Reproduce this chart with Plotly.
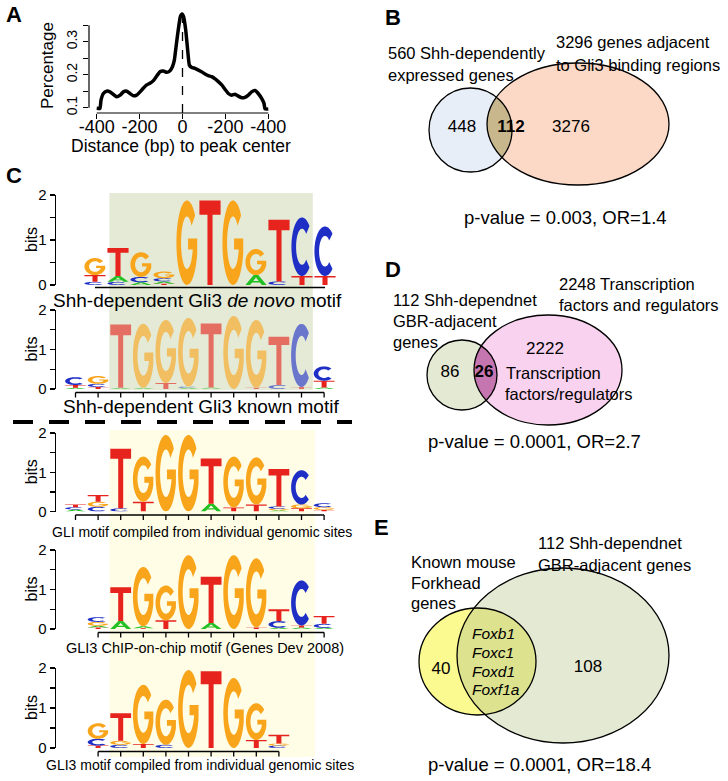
import numpy as np
import plotly.graph_objects as go

W, H = 728, 781
FONT = "Liberation Sans, Arial, sans-serif"

# ---------------- Panel A data ----------------
dist_bp = [-400, -385, -380, -369, -354, -338, -322, -307, -291, -276, -260, -245, -229, -214, -198,
           -183, -167, -152, -136, -120, -105, -89, -74, -58, -47, -38, -30, -19, -10, -2,
           5, 15, 24, 32, 43, 58, 74, 89, 105, 120, 136, 152, 167, 183, 198,
           214, 229, 245, 260, 276, 291, 307, 322, 338, 353, 369, 380, 385, 400]
pct = [0.098, 0.098, 0.123, 0.143, 0.150, 0.148, 0.140, 0.133, 0.138, 0.148, 0.150, 0.143, 0.136, 0.138, 0.148,
       0.159, 0.169, 0.174, 0.182, 0.196, 0.209, 0.211, 0.207, 0.212, 0.224, 0.244, 0.285, 0.340, 0.376, 0.384,
       0.376, 0.335, 0.275, 0.229, 0.222, 0.219, 0.214, 0.209, 0.202, 0.197, 0.194, 0.187, 0.179, 0.169, 0.156,
       0.143, 0.138, 0.141, 0.135, 0.130, 0.131, 0.138, 0.148, 0.152, 0.143, 0.128, 0.113, 0.096, 0.096]
A_XTICKS = [-400, -200, 0, 200, 400]
A_XTICKTEXT = ["-400", "-200", "0", "-200", "-400"]
A_YTICKS = [0.1, 0.15, 0.2, 0.25, 0.3, 0.35]
A_YTICKTEXT = ["0.1", "", "0.2", "", "0.3", ""]

# ---------------- Panel C logo data (letters bottom->top, heights in bits) ----------------
BITS_TICKS = [0, 0.5, 1, 1.5, 2]
BITS_TEXT = ["0", "", "1", "", "2"]

logo1_letters = ["CTG", "CAT", "ACG", "TACG", "G", "T", "G", "AG", "CT", "TC", "TC"]
logo1_heights = [[.07, .15, .38], [.07, .13, .62], [.06, .12, .55], [.03, .05, .07, .15], [1.88], [1.88],
                 [1.88], [.22, .58], [.08, 1.37], [.2, 1.3], [.2, 1.1]]
logo2_letters = ["ATC", "TCG", "AT", "AG", "TG", "ACG", "AT", "G", "TG", "CT", "TC", "ATC"]
logo2_heights = [[.03, .07, .2], [.05, .08, .2], [.03, 1.6], [.03, 1.62], [.15, 1.6], [.03, .03, 1.74],
                 [.04, 1.62], [1.85], [.03, 1.72], [.1, 1.22], [.05, 1.6], [.04, .17, .36]]
logo3_letters = ["ACT", "CGT", "CT", "TG", "G", "G", "AT", "TG", "TG", "AGCT", "TGC", "TGC"]
logo3_heights = [[.05, .06, .07], [.12, .13, .17], [.08, 1.52], [.25, 1.15], [1.95], [1.95], [.2, 1.15],
                 [.1, 1.3], [.18, 1.2], [.03, .04, .06, .95], [.08, .1, .87], [.04, .07, .1]]
logo4_letters = ["TAGC", "AT", "TAG", "TG", "G", "AT", "G", "TG", "ACT", "ATC", "ACT"]
logo4_heights = [[.04, .04, .1, .12], [.2, .86], [.02, .05, 1.5], [.22, .88], [1.87], [.15, 1.17], [1.87],
                 [.04, 1.75], [.03, .17, .3], [.04, .05, 1.14], [.03, .1, .2]]
logo5_letters = ["TCG", "CGT", "TG", "CG", "G", "T", "G", "TG", "CGT"]
logo5_heights = [[.06, .17, .39], [.08, .1, .69], [.1, 1.48], [.08, 1.13], [1.95], [1.92], [1.75],
                 [.2, .92], [.06, .05, .22]]
logo_captions = ["Shh-dependent Gli3 <i>de novo</i> motif", "Shh-dependent Gli3 known motif",
                 "GLI motif compiled from individual genomic sites",
                 "GLI3 ChIP-on-chip motif (Genes Dev 2008)",
                 "GLI3 motif compiled from individual genomic sites"]
CORE_POS = [2.5, 11.5]

LETTER_COLORS = {"A": "#22C022", "C": "#1F2FC6", "G": "#F8A51C", "T": "#E6231D"}

# ---------------- Venn data ----------------
venn_b_counts = ["448", "<b>112</b>", "3276"]
venn_d_counts = ["86", "<b>26</b>", "2222"]
venn_e_counts = ["40", "108"]
venn_b_labels = ["560 Shh-dependently", "expressed genes", "3296 genes adjacent", "to Gli3 binding regions"]
venn_d_labels = ["2248 Transcription", "factors and regulators", "112 Shh-dependnet", "GBR-adjacent", "genes",
                 "Transcription", "factors/regulators"]
venn_e_labels = ["112 Shh-dependnet", "GBR-adjacent genes", "Known mouse", "Forkhead", "genes"]
venn_e_genes = ["Foxb1", "Foxc1", "Foxd1", "Foxf1a"]
venn_pvalues = ["p-value = 0.003, OR=1.4", "p-value = 0.0001, OR=2.7", "p-value = 0.0001, OR=18.4"]


def px_x(p):
    return p / W


def px_y(p):
    return 1 - p / H


# ---------------- glyphs ----------------
def glyph(letter):
    if letter == "T":
        return [[(0, 1), (1, 1), (1, 0.83), (0.62, 0.83), (0.62, 0), (0.38, 0), (0.38, 0.83), (0, 0.83)]]
    if letter == "A":
        outer = [(0, 0), (0.39, 1), (0.61, 1), (1, 0), (0.78, 0), (0.68, 0.26), (0.32, 0.26), (0.22, 0)]
        hole = [(0.37, 0.41), (0.63, 0.41), (0.5, 0.76)]
        return [outer, hole]
    if letter == "C":
        a = np.radians(np.linspace(45, 315, 40))
        outer = list(zip(0.5 + 0.5 * np.cos(a), 0.5 + 0.5 * np.sin(a)))
        b = a[::-1]
        inner = list(zip(0.5 + 0.28 * np.cos(b), 0.5 + 0.31 * np.sin(b)))
        return [outer + inner]
    # G
    a = np.radians(np.linspace(40, 345, 40))
    outer = list(zip(0.5 + 0.5 * np.cos(a), 0.5 + 0.5 * np.sin(a)))
    xr = 0.5 + 0.5 * np.cos(np.radians(345))
    th = np.degrees(np.arcsin((0.42 - 0.5) / 0.31))
    b = np.radians(np.linspace(360 + th, 40, 40))
    inner = list(zip(0.5 + 0.28 * np.cos(b), 0.5 + 0.31 * np.sin(b)))
    bar = [(xr, 0.55), (0.55, 0.55), (0.55, 0.42)]
    return [outer + bar + inner]


def letter_path(letter, xc, y0, w, h):
    parts = []
    for poly in glyph(letter):
        pts = ["%.4f,%.4f" % (xc + (u - 0.5) * w, y0 + v * h) for u, v in poly]
        parts.append("M" + " L".join(pts) + " Z")
    return " ".join(parts)


def paper_text(text, x, y, size, angle=0, family=FONT):
    return dict(text=text, x=px_x(x), y=px_y(y), xref="paper", yref="paper", showarrow=False,
                xanchor="center", yanchor="middle", textangle=angle,
                font=dict(size=size, family=family, color="black"))


fig = go.Figure()
shapes = []
annotations = []

# ---------------- Panel A ----------------
A_X_RANGE = [-436, 436]
A_Y_RANGE = [0.0839, 0.396]
fig.add_trace(go.Scatter(x=dist_bp, y=pct, mode="lines", xaxis="x", yaxis="y", hoverinfo="skip",
                         line=dict(color="black", width=3.5, shape="spline", smoothing=0.4)))
shapes += [
    dict(type="line", xref="x", yref="y domain", x0=A_XTICKS[0], x1=A_XTICKS[-1], y0=0, y1=0,
         line=dict(color="black", width=1.2)),
    dict(type="line", xref="x domain", yref="y", x0=0, x1=0, y0=A_YTICKS[0], y1=A_YTICKS[-1],
         line=dict(color="black", width=1.2)),
    dict(type="line", xref="x", yref="y", x0=0, x1=0, y0=A_Y_RANGE[0], y1=max(pct),
         line=dict(color="black", width=1.3, dash="dash")),
]
annotations += [
    paper_text("Percentage", 47, 66, 17, angle=-90),
    paper_text("Distance (bp) to peak center", 181, 146, 17.5),
]

layout_axes = dict(
    xaxis=dict(domain=[px_x(89), px_x(276)], range=A_X_RANGE, anchor="y", showline=False, showgrid=False,
               zeroline=False, ticks="outside", ticklen=5, tickwidth=1.2, tickcolor="black", automargin=False,
               ticklabelstandoff=-8,
               tickvals=A_XTICKS, ticktext=A_XTICKTEXT, tickfont=dict(size=18, family=FONT, color="black")),
    yaxis=dict(domain=[px_y(113), px_y(10)], range=A_Y_RANGE, anchor="x", showline=False, showgrid=False,
               zeroline=False, ticks="outside", ticklen=5, tickwidth=1.2, tickcolor="black", automargin=False,
               tickvals=A_YTICKS, ticktext=A_YTICKTEXT, tickangle=-90,
               tickfont=dict(size=14, family=FONT, color="black")),
)

# ---------------- Panel C logos ----------------
logos = [
    dict(letters=logo1_letters, heights=logo1_heights, start=1, grid=(95, 23), yb=(285, 195), ticks=False,
         cap_xy=(198, 300), cap_size=19),
    dict(letters=logo2_letters, heights=logo2_heights, start=1, grid=(75.5, 22.6), yb=(389, 310), ticks=True,
         cap_xy=(201, 406), cap_size=19),
    dict(letters=logo3_letters, heights=logo3_heights, start=1, grid=(75.5, 22.6), yb=(511.5, 433), ticks=True,
         cap_xy=(202, 532), cap_size=14),
    dict(letters=logo4_letters, heights=logo4_heights, start=2, grid=(75.5, 22.6), yb=(629, 550), ticks=True,
         cap_xy=(205, 648), cap_size=14.5),
    dict(letters=logo5_letters, heights=logo5_heights, start=2, grid=(75.5, 22.6), yb=(748, 668), ticks=True,
         cap_xy=(200, 765), cap_size=14),
]

# background boxes (core motif positions)
shapes.append(dict(type="rect", xref="x3", yref="paper", x0=CORE_POS[0], x1=CORE_POS[1],
                   y0=px_y(390), y1=px_y(193), fillcolor="#E4EAD6", line=dict(width=0), layer="below"))
shapes.append(dict(type="rect", xref="x4", yref="paper", x0=CORE_POS[0], x1=CORE_POS[1] + 0.1,
                   y0=px_y(757), y1=px_y(430), fillcolor="#FFFDE6", line=dict(width=0), layer="below"))

for k, lg in enumerate(logos):
    n = k + 2
    xa, ya = "x%d" % n, "y%d" % n
    g0, gw = lg["grid"]
    y0px, y2px = lg["yb"]
    npos = len(lg["letters"])
    positions = [lg["start"] + i for i in range(npos)]
    layout_axes["xaxis%d" % n] = dict(domain=[px_x(56), px_x(345)],
                                      range=[(56 - g0) / gw + 1, (345 - g0) / gw + 1],
                                      anchor=ya, visible=False, automargin=False)
    layout_axes["yaxis%d" % n] = dict(domain=[px_y(y0px), px_y(y2px)], range=[0, 2], anchor=xa,
                                      showline=True, linecolor="black", linewidth=1.3, showgrid=False,
                                      zeroline=False, ticks="outside", ticklen=5, tickwidth=1.3,
                                      tickcolor="black", tickvals=BITS_TICKS, ticktext=BITS_TEXT,
                                      automargin=False, tickfont=dict(size=15, family=FONT, color="black"))
    fig.add_trace(go.Scatter(x=positions, y=[0] * npos, xaxis=xa, yaxis=ya, mode="markers",
                             marker=dict(opacity=0), hoverinfo="skip"))
    for p, lets, hs in zip(positions, lg["letters"], lg["heights"]):
        base = 0.0
        for L, h in zip(lets, hs):
            shapes.append(dict(type="path", xref=xa, yref=ya, path=letter_path(L, p, base, 0.92, h),
                               fillcolor=LETTER_COLORS[L], line=dict(width=0), layer="above"))
            base += h
    span = y0px - y2px
    if lg["ticks"]:
        shapes.append(dict(type="line", xref=xa, yref=ya + " domain", x0=positions[0], x1=positions[-1],
                           y0=-3.5 / span, y1=-3.5 / span, line=dict(color="black", width=1.3)))
        for p in positions:
            shapes.append(dict(type="line", xref=xa, yref=ya + " domain", x0=p, x1=p,
                               y0=-3.5 / span, y1=-8.5 / span, line=dict(color="black", width=1.3)))
    else:
        shapes.append(dict(type="line", xref=xa, yref=ya + " domain", x0=positions[0], x1=positions[-1],
                           y0=-2.5 / span, y1=-2.5 / span, line=dict(color="black", width=1.3)))
    if n == 3:
        shapes.append(dict(type="rect", xref=xa, yref=ya, x0=CORE_POS[0], x1=CORE_POS[1], y0=0, y1=2,
                           fillcolor="rgba(228,234,214,0.38)", line=dict(width=0), layer="above"))
    annotations.append(dict(text="bits", x=px_x(31), y=1, xref="paper", yref=ya, showarrow=False,
                            xanchor="center", yanchor="middle", textangle=-90,
                            font=dict(size=16, family=FONT, color="black")))
    cx, cy = lg["cap_xy"]
    annotations.append(paper_text(logo_captions[k], cx, cy, lg["cap_size"]))

# dashed separator
shapes.append(dict(type="line", xref="paper", yref="paper", x0=px_x(13), x1=px_x(352), y0=px_y(422),
                   y1=px_y(422), line=dict(color="black", width=4, dash="20px,16px")))

# ---------------- Venn diagrams ----------------
layout_axes["xaxis7"] = dict(domain=[0, 1], range=[0, W], anchor="y7", visible=False, automargin=False)
layout_axes["yaxis7"] = dict(domain=[0, 1], range=[H, 0], anchor="x7", visible=False, automargin=False)

VENNS = [
    dict(left=(470.5, 130, 41.5, 42), right=(578, 124, 91, 61), fl="#E8EEF8", fr="#FCD9C6", fx="#C8B78D"),
    dict(left=(462, 375, 35, 35), right=(548, 370, 74, 55), fl="#E3E9D3", fr="#F9D2EF", fx="#C575AF"),
    dict(left=(477.5, 661.5, 58.5, 53.5), right=(563, 655.5, 106, 87.5), fl="#FAFA90", fr="#E3E9D2",
         fx="#DCE28E"),
]


def ell_pts(e, n=720):
    cx, cy, rx, ry = e
    t = np.linspace(0, 2 * np.pi, n, endpoint=False)
    return cx + rx * np.cos(t), cy + ry * np.sin(t)


def inside(x, y, e):
    cx, cy, rx, ry = e
    return ((x - cx) / rx) ** 2 + ((y - cy) / ry) ** 2 <= 1.0


def lens_path(e1, e2):
    x1, y1 = ell_pts(e1)
    x2, y2 = ell_pts(e2)
    m1, m2 = inside(x1, y1, e2), inside(x2, y2, e1)
    xs = np.concatenate([x1[m1], x2[m2]])
    ys = np.concatenate([y1[m1], y2[m2]])
    order = np.argsort(np.arctan2(ys - ys.mean(), xs - xs.mean()))
    return "M" + " L".join("%.2f,%.2f" % (xs[i], ys[i]) for i in order) + " Z"


def ell_shape(e, fill, line_w):
    cx, cy, rx, ry = e
    return dict(type="circle", xref="x7", yref="y7", x0=cx - rx, x1=cx + rx, y0=cy - ry, y1=cy + ry,
                fillcolor=fill, line=dict(color="black", width=line_w), layer="below")


for v in VENNS:
    shapes.append(ell_shape(v["left"], v["fl"], 0))
    shapes.append(ell_shape(v["right"], v["fr"], 0))
    shapes.append(dict(type="path", xref="x7", yref="y7", path=lens_path(v["left"], v["right"]),
                       fillcolor=v["fx"], line=dict(width=0), layer="below"))
    shapes.append(ell_shape(v["left"], "rgba(0,0,0,0)", 1.3))
    shapes.append(ell_shape(v["right"], "rgba(0,0,0,0)", 1.3))

count_x = [462, 511, 571, 450, 484, 545, 441, 588]
count_y = [128, 128, 128, 373, 373, 350, 670, 668]
fig.add_trace(go.Scatter(x=count_x, y=count_y, text=venn_b_counts + venn_d_counts + venn_e_counts,
                         mode="text", xaxis="x7", yaxis="y7", hoverinfo="skip",
                         textfont=dict(size=17, family=FONT, color="black")))


def lab(text, x, y, size=16.5, anchor="left"):
    return dict(text=text, x=x, y=y, xref="x7", yref="y7", showarrow=False, xanchor=anchor,
                yanchor="middle", font=dict(size=size, family=FONT, color="black"))


label_pos = [(386, 53), (386, 75), (554, 42), (554, 65),
             (557, 284), (557, 305), (391, 300), (391, 321), (391, 342), (504, 373), (503, 394),
             (536, 543), (536, 565), (409, 562), (409, 583), (409, 603)]
for t, (x, y) in zip(venn_b_labels + venn_d_labels + venn_e_labels, label_pos):
    annotations.append(lab(t, x, y))
for t, y in zip(venn_e_genes, [633, 652, 671, 689]):
    annotations.append(lab("<i>%s</i>" % t, 470, y, size=15.5))
for t, (x, y) in zip(venn_pvalues, [(565, 217), (534, 441), (539, 764)]):
    annotations.append(lab(t, x, y, size=18.5, anchor="center"))

# panel letters
for t, (x, y) in zip("ABCDE", [(14, 15), (393, 17.5), (14, 175), (392.5, 270), (381.5, 527.5)]):
    annotations.append(paper_text("<b>%s</b>" % t, x, y, 22))

fig.update_layout(width=W, height=H, margin=dict(l=0, r=0, t=0, b=0, pad=0, autoexpand=False),
                  paper_bgcolor="white", plot_bgcolor="rgba(0,0,0,0)", showlegend=False,
                  shapes=shapes, annotations=annotations, **layout_axes)
fig.write_html("out.html", config={"displayModeBar": False, "staticPlot": True},
               post_script="document.body.style.margin='0px';document.body.style.padding='0px';"
                           "document.documentElement.style.overflow='hidden';")
